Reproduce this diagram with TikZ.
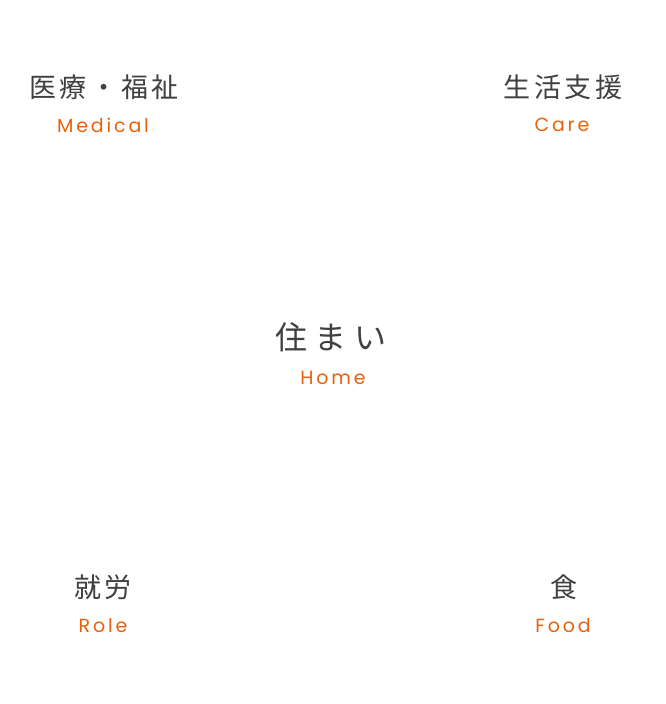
\documentclass[tikz,border=0pt]{standalone}
\usepackage{fontspec}
\newfontfamily\cjk[LetterSpace=13]{Noto Sans CJK JP}
\newfontfamily\cjkwide[LetterSpace=24]{Noto Sans CJK JP}
\newfontfamily\lat[LetterSpace=15]{Poppins}
\definecolor{jgray}{HTML}{404040}
\definecolor{eorange}{HTML}{E8620C}
\begin{document}
\begin{tikzpicture}[x=1pt,y=-1pt,
  jp/.style={inner sep=0pt,text=jgray,font=\cjk\fontsize{27}{30}\selectfont},
  jpbig/.style={inner sep=0pt,text=jgray,font=\cjkwide\fontsize{32}{36}\selectfont},
  en/.style={inner sep=0pt,text=eorange,font=\lat\fontsize{19}{22}\selectfont}]
\useasboundingbox[fill=white] (0,0) rectangle (666,704);
\node[jp] (medjp) at (104,87) {医療・福祉\hspace{-3.5pt}};
\node[en] (meden) at (103,125) {Medical\hspace{-3pt}};
\node[jp] (carejp) at (563,87) {生活支援\hspace{-3.5pt}};
\node[en] (careen) at (562,125) {Care\hspace{-3pt}};
\node[jpbig] (homejp) at (331,337) {住まい\hspace{-8pt}};
\node[en] (homeen) at (333,378) {Home\hspace{-3pt}};
\node[jp] (rolejp) at (103,587) {就労\hspace{-3.5pt}};
\node[en] (roleen) at (103,626) {Role\hspace{-3pt}};
\node[jp] (foodjp) at (564,587) {食\hspace{-3.5pt}};
\node[en] (fooden) at (563,626) {Food\hspace{-3pt}};
\end{tikzpicture}
\end{document}
